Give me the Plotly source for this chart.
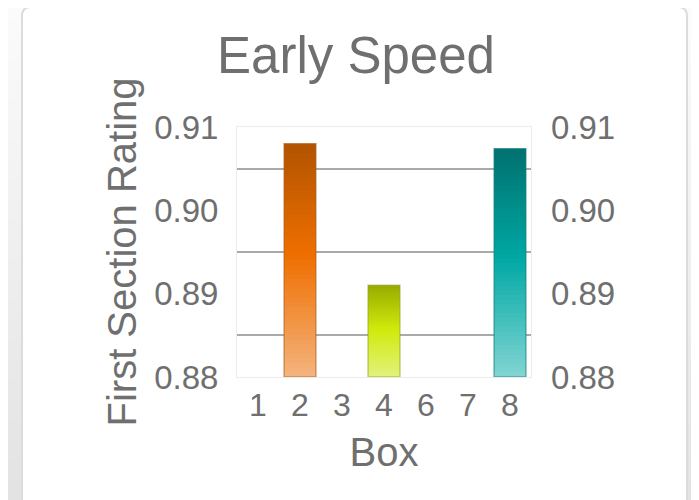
import plotly.graph_objects as go

# ---------------- data ----------------
boxes = ["1", "2", "3", "4", "6", "7", "8"]
ratings = [None, 0.9080, None, 0.8910, None, None, 0.9074]
y_tick_vals = [0.88, 0.89, 0.90, 0.91]
y_tick_text = ["0.88", "0.89", "0.90", "0.91"]
grid_vals = [0.885, 0.895, 0.905]
y_floor = 0.88
y_ceiling = 0.91

# ---------------- style ----------------
OFF = 8                      # page body offset of the figure
W, H = 699 - OFF, 500 - OFF
ML, MT, PW, PH = 237 - OFF, 127 - OFF, 294, 250
MR = W - ML - PW
MB = H - MT - PH
TXT = "#6f6f6f"
FONT = "Liberation Sans, Arial, sans-serif"
# (top, middle, bottom, outline) colours of each bar's vertical gradient
bar_styles = {
    "2": ("#b15300", "#ef6f00", "#f4b47e", "rgba(170,100,40,0.55)"),
    "4": ("#98ac00", "#d0ea0c", "#e3f27c", "rgba(150,165,40,0.55)"),
    "8": ("#00716f", "#00a8a4", "#82d5d3", "rgba(20,130,128,0.55)"),
}
MID_T = 0.48
N_SEG = 50


def hex2rgb(h):
    h = h.lstrip("#")
    return tuple(int(h[i:i + 2], 16) for i in (0, 2, 4))


def mix(c1, c2, f):
    a, b = hex2rgb(c1), hex2rgb(c2)
    return "rgb(%d,%d,%d)" % tuple(round(a[i] + (b[i] - a[i]) * f) for i in range(3))


def grad_color(style, t):
    top, mid, bot = style[0], style[1], style[2]
    if t <= MID_T:
        return mix(top, mid, t / MID_T)
    return mix(mid, bot, (t - MID_T) / (1 - MID_T))


fig = go.Figure()

# gradient fill of each bar, built from the bar's own value
gx, gy, gbase, gcol = [], [], [], []
for box, val in zip(boxes, ratings):
    if val is None:
        continue
    st = bar_styles[box]
    h = val - y_floor
    step = h / N_SEG
    for k in range(N_SEG):
        gx.append(box)
        gbase.append(y_floor + k * step)
        gy.append(step if k == N_SEG - 1 else step * 2)
        t = 1 - (k + 0.5) / N_SEG
        gcol.append(grad_color(st, t))

fig.add_trace(go.Bar(
    x=gx, y=gy, base=gbase,
    marker=dict(color=gcol, line=dict(width=0)),
    hoverinfo="skip", showlegend=False,
))

# the bars themselves (outline), drawn from the data
outline_cols = [bar_styles[b][3] if b in bar_styles else "rgba(0,0,0,0)" for b in boxes]
fig.add_trace(go.Bar(
    x=boxes,
    y=[(v - y_floor) if v is not None else None for v in ratings],
    base=y_floor,
    marker=dict(color="rgba(0,0,0,0)", line=dict(color=outline_cols, width=1.5)),
    customdata=ratings,
    hovertemplate="Box %{x}: %{customdata:.4f}<extra></extra>",
    showlegend=False,
))

# invisible trace carrying the right-hand axis
fig.add_trace(go.Scatter(
    x=boxes, y=ratings, yaxis="y2", mode="markers",
    marker=dict(opacity=0), hoverinfo="skip", showlegend=False,
))


# ---------------- background card decoration ----------------
def px(x):          # screenshot pixel -> paper fraction
    return (x - OFF - ML) / PW


def py(y):
    return (MT + PH - (y - OFF)) / PH


def rrect(x0, y0, x1, y1, r):
    return (f"M {px(x0 + r)} {py(y0)} L {px(x1 - r)} {py(y0)} "
            f"Q {px(x1)} {py(y0)} {px(x1)} {py(y0 + r)} "
            f"L {px(x1)} {py(y1)} L {px(x0)} {py(y1)} L {px(x0)} {py(y0 + r)} "
            f"Q {px(x0)} {py(y0)} {px(x0 + r)} {py(y0)} Z")


shapes = []
bands = 25
for i in range(bands):
    f = i / (bands - 1)
    col = mix("#fbfbfb", "#e3e3e3", f)
    y0 = i * 500 / bands
    shapes.append(dict(type="rect", xref="paper", yref="paper", layer="below",
                       x0=px(-10), x1=px(720), y0=py(y0 + 500 / bands + 1), y1=py(y0 - 1),
                       fillcolor=col, line=dict(width=0)))
for (x0, x1) in [(-40, 4), (22, 687)]:
    shapes.append(dict(type="path", xref="paper", yref="paper", layer="below",
                       path=rrect(x0, 7, x1, 540, 9),
                       fillcolor="white", line=dict(color="#dcdcdc", width=2)))

fig.update_layout(
    width=W, height=H, autosize=False,
    margin=dict(l=ML, r=MR, t=MT, b=MB, pad=0),
    paper_bgcolor="white",
    plot_bgcolor="white",
    font=dict(family=FONT, color=TXT, size=32),
    barmode="overlay",
    bargap=0.24,
    shapes=shapes,
    title=dict(text="Early Speed", x=(356 - OFF) / W, xanchor="center",
               y=0.9045, yanchor="middle",
               font=dict(size=51, color=TXT, family=FONT)),
    xaxis=dict(
        type="category", categoryorder="array", categoryarray=boxes,
        showgrid=False, ticks="", ticklabelstandoff=0,
        tickfont=dict(size=32, color=TXT),
        showline=True, linecolor="#ececec", linewidth=1, mirror=True,
        title=dict(text="Box", font=dict(size=40, color=TXT), standoff=15),
        zeroline=False, fixedrange=True,
    ),
    yaxis=dict(
        range=[y_floor, y_ceiling], tickmode="array",
        tickvals=y_tick_vals, ticktext=y_tick_text,
        showgrid=False, zeroline=False, ticks="", ticklabelstandoff=11,
        tickfont=dict(size=33, color=TXT),
        showline=True, linecolor="#ececec", linewidth=1, mirror=True,
        minor=dict(tickmode="array", tickvals=grid_vals, showgrid=True,
                   gridcolor="#a9a9a9", gridwidth=2, ticks=""),
        title=dict(text="First Section Rating", font=dict(size=40, color=TXT), standoff=5),
        fixedrange=True,
    ),
    yaxis2=dict(
        overlaying="y", side="right", range=[y_floor, y_ceiling], tickmode="array",
        tickvals=y_tick_vals, ticktext=y_tick_text,
        showgrid=False, zeroline=False, ticks="", ticklabelstandoff=19,
        tickfont=dict(size=33, color=TXT), showline=False, fixedrange=True,
    ),
)

fig.write_html("out.html")
